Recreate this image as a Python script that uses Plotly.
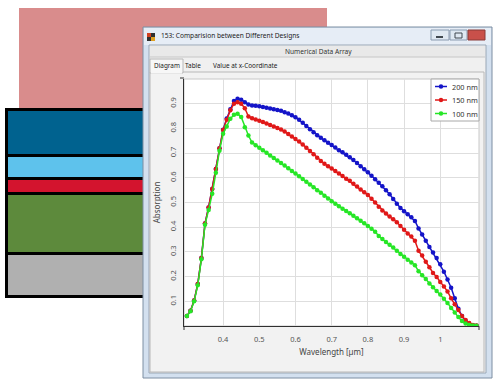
import plotly.graph_objects as go

W, H = 497, 381

wavelength = [round(0.30 + 0.01 * i, 2) for i in range(81)]

abs_200nm = [0.040, 0.062, 0.103, 0.170, 0.275, 0.415, 0.480, 0.555, 0.636, 0.720,
             0.795, 0.840, 0.878, 0.911, 0.920, 0.916, 0.906, 0.897, 0.893, 0.892,
             0.890, 0.887, 0.884, 0.881, 0.878, 0.875, 0.871, 0.865, 0.860, 0.853,
             0.845, 0.835, 0.823, 0.810, 0.797, 0.784, 0.772, 0.762, 0.752, 0.742,
             0.733, 0.723, 0.712, 0.703, 0.693, 0.683, 0.672, 0.660, 0.647, 0.635,
             0.622, 0.608, 0.594, 0.580, 0.566, 0.550, 0.533, 0.514, 0.495, 0.478,
             0.465, 0.452, 0.440, 0.425, 0.395, 0.370, 0.345, 0.320, 0.298, 0.275,
             0.250, 0.220, 0.188, 0.155, 0.112, 0.070, 0.040, 0.020, 0.008, 0.003,
             0.001]

abs_150nm = [0.040, 0.062, 0.103, 0.170, 0.275, 0.415, 0.480, 0.555, 0.636, 0.720,
             0.794, 0.835, 0.873, 0.900, 0.906, 0.900, 0.882, 0.848, 0.841, 0.836,
             0.831, 0.826, 0.820, 0.814, 0.808, 0.802, 0.796, 0.787, 0.777, 0.767,
             0.757, 0.747, 0.735, 0.722, 0.709, 0.695, 0.681, 0.668, 0.657, 0.647,
             0.638, 0.628, 0.617, 0.607, 0.596, 0.588, 0.576, 0.565, 0.553, 0.541,
             0.530, 0.515, 0.500, 0.483, 0.468, 0.455, 0.443, 0.432, 0.420, 0.405,
             0.390, 0.375, 0.362, 0.345, 0.305, 0.285, 0.260, 0.238, 0.215, 0.198,
             0.178, 0.160, 0.140, 0.112, 0.088, 0.065, 0.040, 0.024, 0.012, 0.004,
             0.002]

abs_100nm = [0.040, 0.060, 0.100, 0.165, 0.270, 0.410, 0.470, 0.535, 0.620, 0.710,
             0.778, 0.808, 0.839, 0.855, 0.859, 0.846, 0.805, 0.771, 0.743, 0.732,
             0.722, 0.712, 0.701, 0.690, 0.680, 0.670, 0.660, 0.650, 0.639, 0.628,
             0.617, 0.606, 0.595, 0.584, 0.573, 0.562, 0.550, 0.539, 0.527, 0.516,
             0.505, 0.495, 0.485, 0.475, 0.466, 0.456, 0.446, 0.436, 0.426, 0.416,
             0.405, 0.394, 0.382, 0.364, 0.352, 0.340, 0.329, 0.318, 0.305, 0.292,
             0.280, 0.268, 0.257, 0.246, 0.222, 0.205, 0.190, 0.172, 0.157, 0.142,
             0.128, 0.110, 0.093, 0.073, 0.055, 0.036, 0.020, 0.010, 0.004, 0.002,
             0.001]

series_names = ["200 nm", "150 nm", "100 nm"]
series_colors = ["#1414c8", "#e01818", "#26e626"]

x_ticks = [0.4, 0.5, 0.6, 0.7, 0.8, 0.9, 1.0]
x_ticktext = ["0.4", "0.5", "0.6", "0.7", "0.8", "0.9", "1"]
y_ticks = [0.1, 0.2, 0.3, 0.4, 0.5, 0.6, 0.7, 0.8, 0.9]
y_ticktext = ["0.1", "0.2", "0.3", "0.4", "0.5", "0.6", "0.7", "0.8", "0.9"]

title_text = "153: Comparision between Different Designs"
header_text = "Numerical Data Array"
tab_texts = ["Diagram", "Table", "Value at x-Coordinate"]

FONT = "Noto Sans, Open Sans, sans-serif"


def px(x):
    return x / W


def py(y):
    return 1 - y / H


def rect(x0, y0, x1, y1, fill, line=None, lw=0, layer="below"):
    return dict(type="rect", xref="paper", yref="paper", layer=layer,
                x0=px(x0), x1=px(x1), y0=py(y1), y1=py(y0),
                fillcolor=fill,
                line=dict(color=line if line else fill, width=lw))


def circle(cx, cy, r, fill, layer="above"):
    return dict(type="circle", xref="paper", yref="paper", layer=layer,
                x0=px(cx - r), x1=px(cx + r), y0=py(cy + r), y1=py(cy - r),
                fillcolor=fill, line=dict(color=fill, width=0))


def hline(x0, x1, y, color, lw=1, layer="below"):
    return dict(type="line", xref="paper", yref="paper", layer=layer,
                x0=px(x0), x1=px(x1), y0=py(y), y1=py(y),
                line=dict(color=color, width=lw))


def vline(x, y0, y1, color, lw=1, layer="below"):
    return dict(type="line", xref="paper", yref="paper", layer=layer,
                x0=px(x), x1=px(x), y0=py(y1), y1=py(y0),
                line=dict(color=color, width=lw))


# plot area in pixels
PL, PR, PT, PB = 184, 479, 79, 326

fig = go.Figure()
for name, vals, col in zip(series_names, [abs_200nm, abs_150nm, abs_100nm], series_colors):
    fig.add_trace(go.Scatter(
        x=wavelength, y=vals, name=name, mode="lines+markers",
        line=dict(color=col, width=1.5),
        marker=dict(color=col, size=4.5, symbol="circle"),
        showlegend=False,
    ))

shapes = []
# pink background block
shapes.append(rect(19, 8, 327, 110, "#d98c8c"))
# layer stack
shapes.append(rect(5, 108, 150, 298, "#000000"))
shapes.append(rect(8, 111, 150, 154, "#00628f"))
shapes.append(rect(8, 157, 150, 177, "#5ec2ec"))
shapes.append(rect(8, 180, 150, 192, "#d3142e"))
shapes.append(rect(8, 195, 150, 252, "#5d8a3c"))
shapes.append(rect(8, 255, 150, 295, "#b0b0b0"))
# window frame
shapes.append(rect(143, 27, 492, 378, "#d3e0ef", "#7d8ea2", 1))
shapes.append(rect(144, 28, 491, 45, "#e6edf6"))
# title icon
shapes.append(rect(147, 33, 151, 37, "#d04020"))
shapes.append(rect(151, 33, 155, 37, "#303030"))
shapes.append(rect(147, 37, 151, 41, "#303030"))
shapes.append(rect(151, 37, 155, 41, "#e0a020"))
# title buttons
shapes.append(rect(431, 30, 449, 40, "#dfe8f2", "#8a9bb0", 1))
shapes.append(rect(450, 30, 467, 40, "#dfe8f2", "#8a9bb0", 1))
shapes.append(rect(468, 30, 485, 40, "#c9504a", "#8a3a36", 1))
shapes.append(hline(436, 443, 37, "#404850", 2))
shapes.append(rect(455, 33, 462, 38, "#dfe8f2", "#404850", 1))
# client area
shapes.append(rect(149, 45, 486, 373, "#f0f0f0", "#9aa7b6", 1))
shapes.append(rect(150, 46, 485, 57, "#e9e9e9"))
shapes.append(hline(150, 485, 57, "#c6c6c6"))
# tabs
shapes.append(rect(150, 72, 484, 372, "#f2f2f2", "#b8b8b8", 1))
shapes.append(rect(150, 59, 183, 73, "#f7f7f7", "#b8b8b8", 1))
shapes.append(hline(151, 182, 72.5, "#f7f7f7", 2))
# plot area
shapes.append(rect(PL, PT, PR, PB, "#ffffff", "#c8c8c8", 1))
# corner tick marks
shapes.append(hline(PL - 4, PL, PT - 1, "#303030", 1, "above"))
shapes.append(vline(PR, PB, PB + 4, "#303030", 1, "above"))
shapes.append(vline(PL, PB, PB + 4, "#303030", 1, "above"))

# legend box (drawn manually)
LX0, LY0, LX1, LY1 = 431, 79, 479, 121
shapes.append(rect(LX0, LY0, LX1, LY1, "#ffffff", "#a8a8a8", 1, layer="above"))
legend_rows = [86.5, 100, 113.5]
annotations = []
for name, col, ly in zip(series_names, series_colors, legend_rows):
    shapes.append(hline(435, 447, ly, col, 1.5, "above"))
    shapes.append(circle(441, ly, 2.2, col))
    annotations.append(dict(text=name, x=px(449.5), y=py(ly), xanchor="left",
                            yanchor="middle",
                            font=dict(size=7.3, color="#333333", family=FONT)))

annotations += [
    dict(text=title_text, x=px(159), y=py(35.5), xanchor="left", yanchor="middle",
         font=dict(size=6.6, color="#222222", family=FONT)),
    dict(text=header_text, x=px(318), y=py(51.5), xanchor="center", yanchor="middle",
         font=dict(size=6.6, color="#333333", family=FONT)),
    dict(text=tab_texts[0], x=px(166.5), y=py(65.5), xanchor="center", yanchor="middle",
         font=dict(size=6.4, color="#222222", family=FONT)),
    dict(text=tab_texts[1], x=px(192.5), y=py(65.5), xanchor="center", yanchor="middle",
         font=dict(size=6.4, color="#222222", family=FONT)),
    dict(text=tab_texts[2], x=px(245.5), y=py(65.5), xanchor="center", yanchor="middle",
         font=dict(size=6.4, color="#222222", family=FONT)),
]
for a in annotations:
    a.update(xref="paper", yref="paper", showarrow=False)

fig.update_layout(
    width=W, height=H, autosize=False,
    margin=dict(l=0, r=0, t=0, b=0, pad=0),
    paper_bgcolor="#ffffff", plot_bgcolor="rgba(0,0,0,0)",
    font=dict(family=FONT, size=8, color="#555555"),
    shapes=shapes, annotations=annotations,
    showlegend=False,
    xaxis=dict(domain=[px(PL), px(PR)], range=[0.292, 1.107],
               tickvals=x_ticks, ticktext=x_ticktext, showgrid=True,
               gridcolor="#dedede", gridwidth=1, zeroline=False,
               showline=True, linecolor="#303030", linewidth=1,
               ticks="", ticklabelstandoff=6,
               tickfont=dict(size=7.5, color="#555555"),
               title=dict(text="Wavelength [µm]", standoff=6,
                          font=dict(size=8, color="#444444"))),
    yaxis=dict(domain=[py(PB), py(PT)], range=[0, 1.0],
               tickvals=y_ticks, ticktext=y_ticktext, showgrid=True,
               gridcolor="#dedede", gridwidth=1, zeroline=False,
               showline=True, linecolor="#303030", linewidth=1,
               ticks="", tickangle=-90, ticklabelstandoff=4,
               tickfont=dict(size=7.5, color="#555555"),
               title=dict(text="Absorption", standoff=6,
                          font=dict(size=8, color="#444444"))),
)

fig.write_html("out.html", post_script="document.body.style.margin='0';",
               config={"displayModeBar": False})
